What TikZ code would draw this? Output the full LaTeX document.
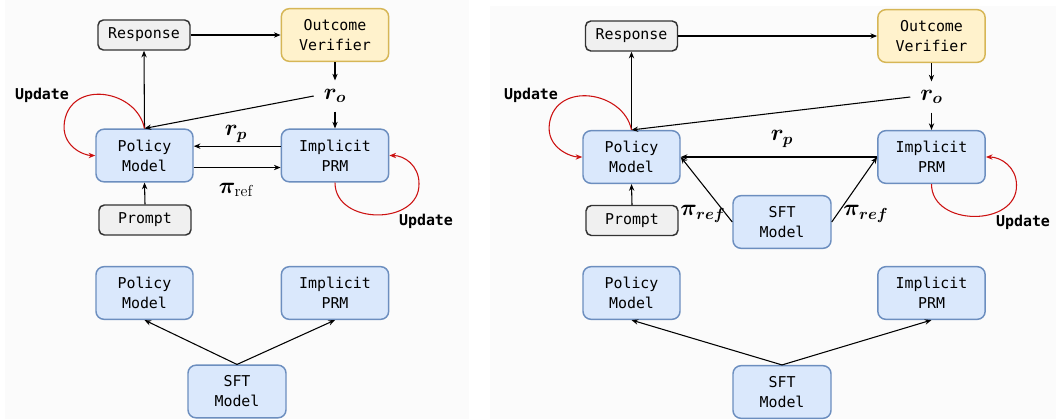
\documentclass[tikz,border=0pt]{standalone}
\usepackage{fontspec}
\setmonofont{DejaVu Sans Mono}
\usepackage{amsmath,bm}
\usetikzlibrary{arrows.meta,calc}
\definecolor{bluefill}{HTML}{DAE8FC}
\definecolor{bluedraw}{HTML}{6C8EBF}
\definecolor{yelfill}{HTML}{FFF2CC}
\definecolor{yeldraw}{HTML}{D6B656}
\definecolor{grayfill}{HTML}{F0F0F0}
\definecolor{graydraw}{HTML}{333333}
\definecolor{panelbg}{HTML}{FBFBFB}
\definecolor{loopred}{HTML}{CC1111}
\begin{document}
\begin{tikzpicture}[x=0.75pt,y=-0.75pt,
 box/.style={rounded corners=6pt, line width=1.1pt, align=center, font=\ttfamily\fontsize{11.2}{15}\selectfont, inner sep=0pt},
 bluebox/.style={box, fill=bluefill, draw=bluedraw, minimum height=39.5pt},
 yelbox/.style={box, fill=yelfill, draw=yeldraw, minimum height=39.5pt},
 graybox/.style={box, fill=grayfill, draw=graydraw, rounded corners=4pt, minimum width=69pt, minimum height=22.5pt},
 polw/.style={minimum width=72.75pt},
 prmw/.style={minimum width=80.5pt},
 arr/.style={-{Stealth[length=5pt,width=4pt]}, line width=0.8pt, draw=black},
 redloop/.style={-{Stealth[length=5pt,width=4pt]}, line width=0.8pt, draw=loopred},
 lbl/.style={font=\fontsize{17}{20}\selectfont, inner sep=0pt},
 upd/.style={font=\ttfamily\bfseries\fontsize{11.2}{15}\selectfont, inner sep=0pt},
]
\useasboundingbox (0,0) rectangle (1060,419);
\fill[panelbg] (5,0) rectangle (469,419);
\fill[panelbg] (490,6) rectangle (1056,419);

% ---------- left panel ----------
\node[graybox] (resp) at (144,35) {Response};
\node[yelbox, prmw] (outc) at (335,35) {Outcome\\Verifier};
\node[bluebox, polw] (pol) at (144.5,155.5) {Policy\\Model};
\node[bluebox, prmw] (prm) at (335,155.5) {Implicit\\PRM};
\node[graybox] (prompt) at (145,220) {Prompt};
\node[bluebox, polw] (pol2) at (144.5,293) {Policy\\Model};
\node[bluebox, prmw] (prm2) at (335,293) {Implicit\\PRM};
\node[bluebox, minimum width=73.5pt] (sft) at (237,391.5) {SFT\\Model};
\node[lbl, minimum width=31.5pt, minimum height=23pt] (ro) at (335,96) {$\bm{r}_{\bm{o}}$};
\node[lbl] (rp) at (236,134) {$\bm{r}_{\bm{p}}$};
\node[lbl] (piref) at (236,190) {$\bm{\pi}_{\mathrm{ref}}$};
\node[upd] (upd1) at (42,95) {Update};
\node[upd] (upd2) at (426,221) {Update};

\draw[arr] (resp.east) -- (outc.west);
\draw[arr] (outc.south) -- (ro.north);
\draw[arr] (ro.south) -- (prm.north);
\draw[arr] (ro.west) -- (pol.north);
\draw[arr] (pol.north) -- (resp.south);
\draw[arr] ([yshift=7pt]prm.west) -- ([yshift=7pt]pol.east);
\draw[arr] ([yshift=-9pt]pol.east) -- ([yshift=-9pt]prm.west);
\draw[arr] (prompt.north) -- (pol.south);
\draw[arr] (sft.north) -- (pol2.south);
\draw[arr] (sft.north) -- (prm2.south);
\draw[redloop] (pol.north) .. controls +(-8,-39) and +(7,-42) .. ++(-80,-7)
  .. controls +(-4,25) and +(-11,0) .. (pol.west);
\draw[redloop] (prm.south) .. controls +(0,43) and +(1,42) .. ++(84,1)
  .. controls +(0,-18) and +(15,0) .. (prm.east);

% ---------- right panel ----------
\node[graybox] (resp2) at (631.5,36) {Response};
\node[yelbox, prmw] (outc2) at (931.5,36) {Outcome\\Verifier};
\node[bluebox, polw] (pol3) at (631.5,157) {Policy\\Model};
\node[bluebox, prmw] (prm3) at (931.5,157) {Implicit\\PRM};
\node[bluebox, minimum width=73.5pt] (sftm) at (782,222) {SFT\\Model};
\node[graybox] (prompt2) at (632,220.5) {Prompt};
\node[bluebox, polw] (pol4) at (631.5,293) {Policy\\Model};
\node[bluebox, prmw] (prm4) at (931.5,293) {Implicit\\PRM};
\node[bluebox, minimum width=73.5pt] (sft2) at (782,392) {SFT\\Model};
\node[lbl, minimum width=31.5pt, minimum height=23pt] (ro2) at (931.5,97) {$\bm{r}_{\bm{o}}$};
\node[lbl] (rp2) at (782,139) {$\bm{r}_{\bm{p}}$};
\node[lbl] (pil) at (703,214) {$\bm{\pi}_{\bm{ref}}$};
\node[lbl] (pir) at (866,214) {$\bm{\pi}_{\bm{ref}}$};
\node[upd] (upd3) at (531,95) {Update};
\node[upd] (upd4) at (1023,222) {Update};

\draw[arr] (resp2.east) -- (outc2.west);
\draw[arr] (outc2.south) -- (ro2.north);
\draw[arr] (ro2.south) -- (prm3.north);
\draw[arr] (ro2.west) -- (pol3.north);
\draw[arr] (pol3.north) -- (resp2.south);
\draw[arr] (prm3.west) -- (pol3.east);
\draw[arr] (sftm.west) -- (pol3.east);
\draw[arr] (sftm.east) -- (prm3.west);
\draw[arr] (prompt2.north) -- (pol3.south);
\draw[arr] (sft2.north) -- (pol4.south);
\draw[arr] (sft2.north) -- (prm4.south);
\draw[redloop] (pol3.north) .. controls +(-8,-39) and +(7,-42) .. ++(-82,-7)
  .. controls +(-4,25) and +(-11,0) .. (pol3.west);
\draw[redloop] (prm3.south) .. controls +(0,43) and +(1,42) .. ++(85,1)
  .. controls +(0,-18) and +(15,0) .. (prm3.east);
\end{tikzpicture}
\end{document}
